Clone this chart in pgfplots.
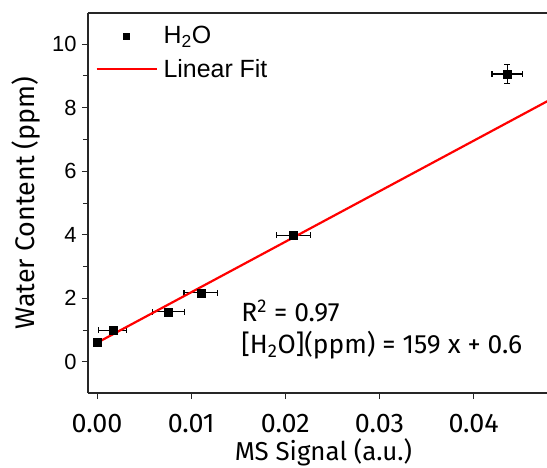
\documentclass[border=0pt]{standalone}
\usepackage{fontspec}
\setmainfont{Liberation Sans}
\newfontfamily\din{Fira Sans}
\usepackage{pgfplots}
\pgfplotsset{compat=1.18}
\usepackage{pgfplotstable}
\pgfplotstableread{
x y ex ey
0.00000 0.63 0.0000 0.00
0.00167 1.00 0.0015 0.00
0.00757 1.575 0.0017 0.00
0.01104 2.17 0.0018 0.00
0.02084 3.99 0.0018 0.00
0.04356 9.06 0.0016 0.29
}\datatable
\pgfplotstableread{
x y
0.0000 0.60
0.0480 8.23
}\fittable
\begin{document}
\begin{tikzpicture}
\path[use as bounding box] (-88bp,-75bp) rectangle (459bp,393bp);
\begin{axis}[
  at={(0,0)}, anchor=south west,
  width=459bp, height=380bp, scale only axis,
  xmin=-0.00096, xmax=0.0478, ymin=-0.98, ymax=10.98,
  axis x line=box, axis y line=left,
  x axis line style={-, line width=1.3pt, black!85},
  y axis line style={-, line width=1.3pt, black!85},
  xtick={0,0.01,0.02,0.03,0.04},
  xticklabels={0.00,0.01,0.02,0.03,0.04},
  ytick={0,2,4,6,8,10},
  minor ytick={-1,1,3,5,7,9},
  xtick pos=bottom, ytick pos=left,
  tick align=outside,
  major tick length=6bp, minor tick length=5bp,
  every tick/.style={black!85, line width=1pt},
  /pgf/number format/assume math mode=true,
  xticklabel style={font=\din\fontsize{27}{27}\selectfont, yshift=-12bp},
  yticklabel style={font=\fontsize{22}{22}\selectfont, xshift=-2bp},
  scaled x ticks=false,
  xlabel={MS Signal (a.u.)},
  ylabel={Water Content (ppm)},
  xlabel style={font=\din\fontsize{26}{26}\selectfont, at={(axis description cs:0.513,0)}, anchor=north, yshift=-42.5bp},
  ylabel style={font=\din\fontsize{27}{27}\selectfont, yshift=5bp},
  legend style={draw=none, fill=none, at={(axis cs:-0.00050,10.69)}, anchor=north west,
    font=\fontsize{25}{25}\selectfont, row sep=10bp},
  legend cell align=left,
  clip=false,
]
\addplot[only marks, mark=square*, mark size=4bp, black,
  legend image code/.code={\path[draw=none, fill=none] (0bp,-1bp) rectangle (65bp,1bp); \fill[black] (27bp,-3bp) rectangle (33bp,3bp);},
  error bars/.cd, x dir=both, x explicit, y dir=both, y explicit,
  error bar style={line width=1.1pt, black},
  error mark options={line width=1.1pt, mark size=3bp, rotate=90, black}]
  table[x=x, y=y, x error=ex, y error=ey] {\datatable};
\addlegendentry{H\textsubscript{2}O}
\addplot[red, line width=2.2bp, no marks,
  legend image code/.code={\path[draw=none, fill=none] (0bp,-1bp) rectangle (65bp,1bp); \draw[red, line width=2.2bp] (0bp,0bp) -- (60bp,0bp);}]
  table[x=x, y=y] {\fittable};
\addlegendentry{Linear Fit}
\node[anchor=base west, font=\din\fontsize{26.5}{26.5}\selectfont] at (axis cs:0.01497,1.26) {R\textsuperscript{2} = 0.97};
\node[anchor=base west, font=\din\fontsize{26.5}{26.5}\selectfont] at (axis cs:0.01497,0.27) {[H\textsubscript{2}O](ppm) = 159 x + 0.6};
\end{axis}
\end{tikzpicture}
\end{document}
